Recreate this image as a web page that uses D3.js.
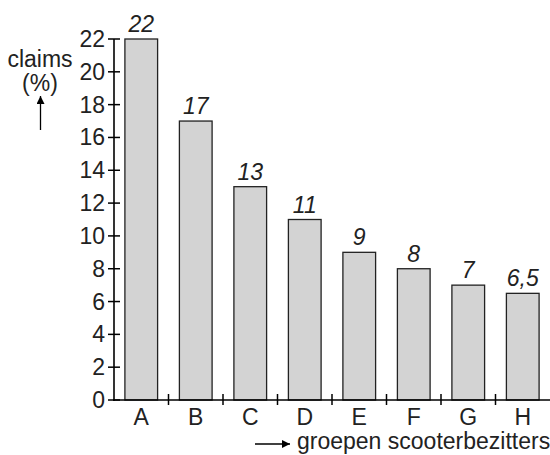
<!DOCTYPE html>
<html>
<head>
<meta charset="utf-8">
<script src="https://cdn.jsdelivr.net/npm/d3@7"></script>
<style>
  body { margin: 0; background: #fff; }
  text { font-family: "Liberation Sans", Arial, sans-serif; fill: #222; }
</style>
</head>
<body>
<div id="chart"></div>
<script>
var width = 550;
var height = 455;

// data
var groups = ["A", "B", "C", "D", "E", "F", "G", "H"];
var claims = [22, 17, 13, 11, 9, 8, 7, 6.5];
var claimLabels = ["22", "17", "13", "11", "9", "8", "7", "6,5"];
var yTicks = [0, 2, 4, 6, 8, 10, 12, 14, 16, 18, 20, 22];

var svg = d3.select("#chart")
    .append("svg")
    .attr("width", width)
    .attr("height", height);

var x = d3.scaleBand()
    .domain(groups)
    .range([114, 550])
    .padding(0);

var y = d3.scaleLinear()
    .domain([0, 22])
    .range([400, 39]);

var barW = x.bandwidth() * 0.6;

//Bars
svg.selectAll("rect.bar")
    .data(claims)
    .enter()
    .append("rect")
    .attr("class", "bar")
    .attr("x", function(d, i) { return x(groups[i]) + (x.bandwidth() - barW) / 2; })
    .attr("y", function(d) { return y(d); })
    .attr("width", barW)
    .attr("height", function(d) { return y(0) - y(d); })
    .attr("fill", "#d3d3d3")
    .attr("stroke", "#222")
    .attr("stroke-width", 1.3);

//Value labels
svg.selectAll("text.val")
    .data(claims)
    .enter()
    .append("text")
    .attr("class", "val")
    .attr("x", function(d, i) { return x(groups[i]) + x.bandwidth() / 2; })
    .attr("y", function(d) { return y(d) - 7; })
    .attr("text-anchor", "middle")
    .attr("font-size", 23)
    .attr("font-style", "italic")
    .text(function(d, i) { return claimLabels[i]; });

//Y axis
svg.append("line")
    .attr("x1", 114).attr("y1", y(0) + 1)
    .attr("x2", 114).attr("y2", y(22))
    .attr("stroke", "#000")
    .attr("stroke-width", 1.6);

yTicks.forEach(function(t) {
    svg.append("line")
        .attr("x1", 108).attr("y1", y(t))
        .attr("x2", 120).attr("y2", y(t))
        .attr("stroke", "#000")
        .attr("stroke-width", 1.5);
    svg.append("text")
        .attr("x", 105)
        .attr("y", y(t) + 8)
        .attr("text-anchor", "end")
        .attr("font-size", 23)
        .text(t);
});

//X axis
svg.append("line")
    .attr("x1", 113).attr("y1", y(0))
    .attr("x2", 550).attr("y2", y(0))
    .attr("stroke", "#000")
    .attr("stroke-width", 1.6);

groups.forEach(function(g, i) {
    if (i > 0) {
        svg.append("line")
            .attr("x1", x(g)).attr("y1", y(0) - 6)
            .attr("x2", x(g)).attr("y2", y(0) + 5)
            .attr("stroke", "#000")
            .attr("stroke-width", 1.5);
    }
    svg.append("text")
        .attr("x", x(g) + x.bandwidth() / 2)
        .attr("y", 425)
        .attr("text-anchor", "middle")
        .attr("font-size", 23)
        .text(g);
});

//Arrow markers
svg.append("defs").append("marker")
    .attr("id", "arrow")
    .attr("viewBox", "0 0 10 10")
    .attr("refX", 10).attr("refY", 5)
    .attr("markerWidth", 10).attr("markerHeight", 8)
    .attr("markerUnits", "userSpaceOnUse")
    .attr("orient", "auto")
    .append("path")
    .attr("d", "M0,0 L10,5 L0,10 z")
    .attr("fill", "#000");

//Y title
svg.append("text")
    .attr("x", 40).attr("y", 67)
    .attr("text-anchor", "middle")
    .attr("font-size", 23)
    .text("claims");
svg.append("text")
    .attr("x", 40).attr("y", 91)
    .attr("text-anchor", "middle")
    .attr("font-size", 23)
    .text("(%)");
svg.append("line")
    .attr("x1", 40.5).attr("y1", 130)
    .attr("x2", 40.5).attr("y2", 96)
    .attr("stroke", "#000")
    .attr("stroke-width", 1.3)
    .attr("marker-end", "url(#arrow)");

//X title
svg.append("line")
    .attr("x1", 255).attr("y1", 444)
    .attr("x2", 290).attr("y2", 444)
    .attr("stroke", "#000")
    .attr("stroke-width", 1.3)
    .attr("marker-end", "url(#arrow)");
svg.append("text")
    .attr("x", 297).attr("y", 449)
    .attr("font-size", 23)
    .text("groepen scooterbezitters");
</script>
</body>
</html>
